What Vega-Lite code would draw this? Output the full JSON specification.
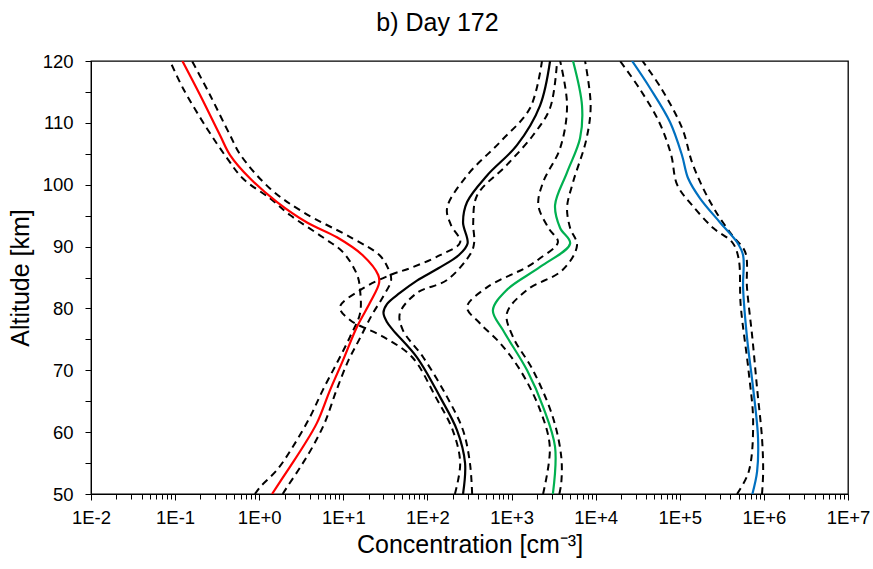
{
  "$schema": "https://vega.github.io/schema/vega-lite/v6.json",
  "width": 757,
  "height": 433,
  "autosize": {"type": "none"},
  "padding": {"left": 91, "top": 61, "right": 25, "bottom": 75},
  "background": "white",
  "title": {"text": "b) Day 172", "fontSize": 25, "font": "Liberation Sans", "fontWeight": "normal", "color": "#000000", "anchor": "middle", "dx": -32, "offset": 16},
  "config": {
    "view": {"stroke": "#000000", "strokeWidth": 1.3},
    "axis": {"grid": false, "domainColor": "#000000", "tickColor": "#000000", "labelFont": "Liberation Sans", "titleFont": "Liberation Sans", "labelColor": "#000000", "titleColor": "#000000", "titleFontWeight": "normal"}
  },
  "data": {"values": [
    {"series":"red","kind":"mid","alt":120,"conc":0.122},
    {"series":"red","kind":"mid","alt":114.5,"conc":0.198},
    {"series":"red","kind":"mid","alt":108,"conc":0.342},
    {"series":"red","kind":"mid","alt":104.8,"conc":0.45},
    {"series":"red","kind":"mid","alt":101,"conc":0.78},
    {"series":"red","kind":"mid","alt":97.2,"conc":1.63},
    {"series":"red","kind":"mid","alt":93.9,"conc":3.7},
    {"series":"red","kind":"mid","alt":91.5,"conc":8.4},
    {"series":"red","kind":"mid","alt":88.6,"conc":17},
    {"series":"red","kind":"mid","alt":85.4,"conc":26},
    {"series":"red","kind":"mid","alt":84.1,"conc":26.6},
    {"series":"red","kind":"mid","alt":80.9,"conc":20.7},
    {"series":"red","kind":"mid","alt":77,"conc":14.5},
    {"series":"red","kind":"mid","alt":71.6,"conc":9.9},
    {"series":"red","kind":"mid","alt":66.8,"conc":6.95},
    {"series":"red","kind":"mid","alt":61.5,"conc":4.86},
    {"series":"red","kind":"mid","alt":57.6,"conc":3.3},
    {"series":"red","kind":"mid","alt":54.4,"conc":2.32},
    {"series":"red","kind":"mid","alt":50,"conc":1.42},

    {"series":"red_lo","kind":"bound","alt":120,"conc":0.087},
    {"series":"red_lo","kind":"bound","alt":115.6,"conc":0.124},
    {"series":"red_lo","kind":"bound","alt":109.1,"conc":0.239},
    {"series":"red_lo","kind":"bound","alt":104.3,"conc":0.414},
    {"series":"red_lo","kind":"bound","alt":101,"conc":0.64},
    {"series":"red_lo","kind":"bound","alt":97.8,"conc":1.34},
    {"series":"red_lo","kind":"bound","alt":95.1,"conc":2.32},
    {"series":"red_lo","kind":"bound","alt":91.5,"conc":5.7},
    {"series":"red_lo","kind":"bound","alt":89.1,"conc":9.9},
    {"series":"red_lo","kind":"bound","alt":85.4,"conc":14.6},
    {"series":"red_lo","kind":"bound","alt":83,"conc":15.8},
    {"series":"red_lo","kind":"bound","alt":79.2,"conc":15.8},
    {"series":"red_lo","kind":"bound","alt":75.4,"conc":12},
    {"series":"red_lo","kind":"bound","alt":71.2,"conc":8.4},
    {"series":"red_lo","kind":"bound","alt":66.8,"conc":5.7},
    {"series":"red_lo","kind":"bound","alt":62.4,"conc":4.0},
    {"series":"red_lo","kind":"bound","alt":57.6,"conc":2.5},
    {"series":"red_lo","kind":"bound","alt":53.9,"conc":1.63},
    {"series":"red_lo","kind":"bound","alt":51.1,"conc":1.02},
    {"series":"red_lo","kind":"bound","alt":50,"conc":0.89},

    {"series":"red_hi","kind":"bound","alt":120,"conc":0.159},
    {"series":"red_hi","kind":"bound","alt":114.5,"conc":0.26},
    {"series":"red_hi","kind":"bound","alt":108,"conc":0.45},
    {"series":"red_hi","kind":"bound","alt":104.8,"conc":0.6},
    {"series":"red_hi","kind":"bound","alt":99.4,"conc":1.34},
    {"series":"red_hi","kind":"bound","alt":95.6,"conc":3.3},
    {"series":"red_hi","kind":"bound","alt":91.3,"conc":13},
    {"series":"red_hi","kind":"bound","alt":88.6,"conc":27},
    {"series":"red_hi","kind":"bound","alt":86.5,"conc":34},
    {"series":"red_hi","kind":"bound","alt":84.6,"conc":37},
    {"series":"red_hi","kind":"bound","alt":82,"conc":30},
    {"series":"red_hi","kind":"bound","alt":79,"conc":22},
    {"series":"red_hi","kind":"bound","alt":75,"conc":15.5},
    {"series":"red_hi","kind":"bound","alt":71.6,"conc":11.5},
    {"series":"red_hi","kind":"bound","alt":66.8,"conc":8.3},
    {"series":"red_hi","kind":"bound","alt":61.5,"conc":6.0},
    {"series":"red_hi","kind":"bound","alt":57.6,"conc":4.3},
    {"series":"red_hi","kind":"bound","alt":54.4,"conc":3.1},
    {"series":"red_hi","kind":"bound","alt":51.1,"conc":2.14},
    {"series":"red_hi","kind":"bound","alt":50,"conc":1.9},

    {"series":"black","kind":"mid","alt":120,"conc":2870},
    {"series":"black","kind":"mid","alt":112.8,"conc":2180},
    {"series":"black","kind":"mid","alt":106.4,"conc":1160},
    {"series":"black","kind":"mid","alt":101.5,"conc":512},
    {"series":"black","kind":"mid","alt":97.2,"conc":296},
    {"series":"black","kind":"mid","alt":93.9,"conc":265},
    {"series":"black","kind":"mid","alt":90.5,"conc":300},
    {"series":"black","kind":"mid","alt":88.6,"conc":235},
    {"series":"black","kind":"mid","alt":86.5,"conc":135},
    {"series":"black","kind":"mid","alt":84.5,"conc":75},
    {"series":"black","kind":"mid","alt":82.5,"conc":47},
    {"series":"black","kind":"mid","alt":80.7,"conc":33},
    {"series":"black","kind":"mid","alt":79.3,"conc":30},
    {"series":"black","kind":"mid","alt":77.8,"conc":33},
    {"series":"black","kind":"mid","alt":76.5,"conc":39},
    {"series":"black","kind":"mid","alt":72.1,"conc":75},
    {"series":"black","kind":"mid","alt":65.7,"conc":141},
    {"series":"black","kind":"mid","alt":60.3,"conc":225},
    {"series":"black","kind":"mid","alt":55,"conc":280},
    {"series":"black","kind":"mid","alt":50,"conc":265},

    {"series":"black_lo","kind":"bound","alt":120,"conc":2300},
    {"series":"black_lo","kind":"bound","alt":112.4,"conc":1660},
    {"series":"black_lo","kind":"bound","alt":106.9,"conc":730},
    {"series":"black_lo","kind":"bound","alt":101.5,"conc":296},
    {"series":"black_lo","kind":"bound","alt":96.2,"conc":171},
    {"series":"black_lo","kind":"bound","alt":93.5,"conc":190},
    {"series":"black_lo","kind":"bound","alt":90.7,"conc":245},
    {"series":"black_lo","kind":"bound","alt":88.6,"conc":141},
    {"series":"black_lo","kind":"bound","alt":86.5,"conc":62},
    {"series":"black_lo","kind":"bound","alt":85.4,"conc":36},
    {"series":"black_lo","kind":"bound","alt":83,"conc":16},
    {"series":"black_lo","kind":"bound","alt":80.2,"conc":9.1},
    {"series":"black_lo","kind":"bound","alt":78.1,"conc":12.1},
    {"series":"black_lo","kind":"bound","alt":75.4,"conc":30},
    {"series":"black_lo","kind":"bound","alt":72.1,"conc":66},
    {"series":"black_lo","kind":"bound","alt":65.7,"conc":125},
    {"series":"black_lo","kind":"bound","alt":60.3,"conc":200},
    {"series":"black_lo","kind":"bound","alt":55,"conc":245},
    {"series":"black_lo","kind":"bound","alt":50,"conc":212},

    {"series":"black_hi","kind":"bound","alt":120,"conc":3480},
    {"series":"black_hi","kind":"bound","alt":112.4,"conc":2870},
    {"series":"black_hi","kind":"bound","alt":108,"conc":1800},
    {"series":"black_hi","kind":"bound","alt":103.2,"conc":880},
    {"series":"black_hi","kind":"bound","alt":98.3,"conc":390},
    {"series":"black_hi","kind":"bound","alt":93.9,"conc":350},
    {"series":"black_hi","kind":"bound","alt":90.7,"conc":360},
    {"series":"black_hi","kind":"bound","alt":89,"conc":330},
    {"series":"black_hi","kind":"bound","alt":84.6,"conc":171},
    {"series":"black_hi","kind":"bound","alt":82.5,"conc":75},
    {"series":"black_hi","kind":"bound","alt":79.2,"conc":47},
    {"series":"black_hi","kind":"bound","alt":76.5,"conc":51},
    {"series":"black_hi","kind":"bound","alt":72.1,"conc":89},
    {"series":"black_hi","kind":"bound","alt":65.7,"conc":171},
    {"series":"black_hi","kind":"bound","alt":60.3,"conc":265},
    {"series":"black_hi","kind":"bound","alt":55,"conc":320},
    {"series":"black_hi","kind":"bound","alt":50,"conc":340},

    {"series":"green","kind":"mid","alt":120,"conc":5380},
    {"series":"green","kind":"mid","alt":112.8,"conc":6880},
    {"series":"green","kind":"mid","alt":107.5,"conc":6520},
    {"series":"green","kind":"mid","alt":102,"conc":4570},
    {"series":"green","kind":"mid","alt":96.7,"conc":3290},
    {"series":"green","kind":"mid","alt":93,"conc":3780},
    {"series":"green","kind":"mid","alt":90.5,"conc":4970},
    {"series":"green","kind":"mid","alt":86.7,"conc":2180},
    {"series":"green","kind":"mid","alt":83,"conc":880},
    {"series":"green","kind":"mid","alt":79.7,"conc":600},
    {"series":"green","kind":"mid","alt":76.5,"conc":790},
    {"series":"green","kind":"mid","alt":70,"conc":1530},
    {"series":"green","kind":"mid","alt":64.1,"conc":2370},
    {"series":"green","kind":"mid","alt":57.6,"conc":3290},
    {"series":"green","kind":"mid","alt":50,"conc":3100},

    {"series":"green_lo","kind":"bound","alt":120,"conc":3780},
    {"series":"green_lo","kind":"bound","alt":112.8,"conc":4570},
    {"series":"green_lo","kind":"bound","alt":105.9,"conc":3780},
    {"series":"green_lo","kind":"bound","alt":100.4,"conc":2370},
    {"series":"green_lo","kind":"bound","alt":96.7,"conc":2080},
    {"series":"green_lo","kind":"bound","alt":93,"conc":2750},
    {"series":"green_lo","kind":"bound","alt":90.7,"conc":3560},
    {"series":"green_lo","kind":"bound","alt":88.1,"conc":2180},
    {"series":"green_lo","kind":"bound","alt":86.7,"conc":1530},
    {"series":"green_lo","kind":"bound","alt":83.4,"conc":510},
    {"series":"green_lo","kind":"bound","alt":80.2,"conc":296},
    {"series":"green_lo","kind":"bound","alt":77.6,"conc":420},
    {"series":"green_lo","kind":"bound","alt":74.4,"conc":730},
    {"series":"green_lo","kind":"bound","alt":70,"conc":1270},
    {"series":"green_lo","kind":"bound","alt":63.6,"conc":2180},
    {"series":"green_lo","kind":"bound","alt":57.6,"conc":2850},
    {"series":"green_lo","kind":"bound","alt":50,"conc":2370},

    {"series":"green_hi","kind":"bound","alt":120,"conc":7480},
    {"series":"green_hi","kind":"bound","alt":112.8,"conc":8720},
    {"series":"green_hi","kind":"bound","alt":107.3,"conc":7740},
    {"series":"green_hi","kind":"bound","alt":100.4,"conc":5380},
    {"series":"green_hi","kind":"bound","alt":96.3,"conc":4570},
    {"series":"green_hi","kind":"bound","alt":93,"conc":4970},
    {"series":"green_hi","kind":"bound","alt":90.2,"conc":6000},
    {"series":"green_hi","kind":"bound","alt":86.2,"conc":4040},
    {"series":"green_hi","kind":"bound","alt":83,"conc":1530},
    {"series":"green_hi","kind":"bound","alt":79.2,"conc":880},
    {"series":"green_hi","kind":"bound","alt":75.4,"conc":1040},
    {"series":"green_hi","kind":"bound","alt":70,"conc":1800},
    {"series":"green_hi","kind":"bound","alt":62.4,"conc":3100},
    {"series":"green_hi","kind":"bound","alt":56,"conc":3900},
    {"series":"green_hi","kind":"bound","alt":51.8,"conc":3900},
    {"series":"green_hi","kind":"bound","alt":50,"conc":3700},

    {"series":"blue","kind":"mid","alt":120,"conc":27100},
    {"series":"blue","kind":"mid","alt":115.6,"conc":44400},
    {"series":"blue","kind":"mid","alt":110.1,"conc":76700},
    {"series":"blue","kind":"mid","alt":104.8,"conc":106000},
    {"series":"blue","kind":"mid","alt":101,"conc":126000},
    {"series":"blue","kind":"mid","alt":97.8,"conc":174000},
    {"series":"blue","kind":"mid","alt":93.9,"conc":301000},
    {"series":"blue","kind":"mid","alt":90.7,"conc":480000},
    {"series":"blue","kind":"mid","alt":88.6,"conc":566000},
    {"series":"blue","kind":"mid","alt":83.3,"conc":566000},
    {"series":"blue","kind":"mid","alt":75.2,"conc":631000},
    {"series":"blue","kind":"mid","alt":67.1,"conc":745000},
    {"series":"blue","kind":"mid","alt":59,"conc":852000},
    {"series":"blue","kind":"mid","alt":53.6,"conc":830000},
    {"series":"blue","kind":"mid","alt":50,"conc":730000},

    {"series":"blue_lo","kind":"bound","alt":120,"conc":19500},
    {"series":"blue_lo","kind":"bound","alt":115.6,"conc":33000},
    {"series":"blue_lo","kind":"bound","alt":110.1,"conc":57000},
    {"series":"blue_lo","kind":"bound","alt":104.8,"conc":79000},
    {"series":"blue_lo","kind":"bound","alt":100,"conc":93000},
    {"series":"blue_lo","kind":"bound","alt":96.7,"conc":140000},
    {"series":"blue_lo","kind":"bound","alt":93,"conc":250000},
    {"series":"blue_lo","kind":"bound","alt":90.7,"conc":420000},
    {"series":"blue_lo","kind":"bound","alt":88.1,"conc":500000},
    {"series":"blue_lo","kind":"bound","alt":80.5,"conc":530000},
    {"series":"blue_lo","kind":"bound","alt":69.7,"conc":660000},
    {"series":"blue_lo","kind":"bound","alt":61.6,"conc":745000},
    {"series":"blue_lo","kind":"bound","alt":53.6,"conc":660000},
    {"series":"blue_lo","kind":"bound","alt":50,"conc":480000},

    {"series":"blue_hi","kind":"bound","alt":120,"conc":36000},
    {"series":"blue_hi","kind":"bound","alt":115.6,"conc":60000},
    {"series":"blue_hi","kind":"bound","alt":109.1,"conc":107000},
    {"series":"blue_hi","kind":"bound","alt":103.6,"conc":140000},
    {"series":"blue_hi","kind":"bound","alt":99.4,"conc":190000},
    {"series":"blue_hi","kind":"bound","alt":95.6,"conc":270000},
    {"series":"blue_hi","kind":"bound","alt":91.8,"conc":420000},
    {"series":"blue_hi","kind":"bound","alt":89.1,"conc":600000},
    {"series":"blue_hi","kind":"bound","alt":83.3,"conc":630000},
    {"series":"blue_hi","kind":"bound","alt":75.2,"conc":730000},
    {"series":"blue_hi","kind":"bound","alt":67.1,"conc":830000},
    {"series":"blue_hi","kind":"bound","alt":59,"conc":950000},
    {"series":"blue_hi","kind":"bound","alt":53.6,"conc":980000},
    {"series":"blue_hi","kind":"bound","alt":50,"conc":950000}
  ]},
  "layer": [
    {
      "transform": [{"filter": "datum.kind === 'bound'"}],
      "mark": {"type": "line", "interpolate": "catmull-rom", "color": "#000000", "strokeWidth": 2, "strokeDash": [7, 5], "clip": true},
      "encoding": {
        "x": {"field": "conc", "type": "quantitative", "scale": {"type": "log", "domain": [0.01, 10000000], "nice": false},
              "axis": {"orient": "bottom", "values": [0.02,0.03,0.04,0.05,0.06,0.07,0.08,0.09,0.2,0.3,0.4,0.5,0.6,0.7,0.8,0.9,2,3,4,5,6,7,8,9,20,30,40,50,60,70,80,90,200,300,400,500,600,700,800,900,2000,3000,4000,5000,6000,7000,8000,9000,20000,30000,40000,50000,60000,70000,80000,90000,200000,300000,400000,500000,600000,700000,800000,900000,2000000,3000000,4000000,5000000,6000000,7000000,8000000,9000000], "labels": false, "domain": false, "tickSize": 5, "title": null}},
        "y": {"field": "alt", "type": "quantitative", "scale": {"domain": [50, 120], "nice": false, "zero": false},
              "axis": {"orient": "left", "values": [55,65,75,85,95,105,115], "labels": false, "domain": false, "tickSize": 6, "title": null}},
        "detail": {"field": "series"},
        "order": {"field": "alt", "type": "quantitative"}
      }
    },
    {
      "transform": [{"filter": "datum.kind === 'mid'"}],
      "mark": {"type": "line", "interpolate": "catmull-rom", "strokeWidth": 2.2, "clip": true},
      "encoding": {
        "x": {"field": "conc", "type": "quantitative", "scale": {"type": "log", "domain": [0.01, 10000000], "nice": false},
              "axis": {"orient": "bottom", "values": [0.01,0.1,1,10,100,1000,10000,100000,1000000,10000000], "labelExpr": "'1E' + (round(log(datum.value)/LN10) >= 0 ? '+' : '') + round(log(datum.value)/LN10)", "tickSize": 6, "labelFontSize": 18.5, "labelPadding": 8, "labelFlush": false, "labelOverlap": false, "title": "Concentration [cm⁻³]", "titleFontSize": 25, "titlePadding": 6}},
        "y": {"field": "alt", "type": "quantitative", "scale": {"domain": [50, 120], "nice": false, "zero": false},
              "axis": {"orient": "left", "values": [50,60,70,80,90,100,110,120], "tickSize": 6, "labelFontSize": 18.5, "labelPadding": 12, "labelFlush": false, "title": "Altitude [km]", "titleFontSize": 25, "titlePadding": 9}},
        "color": {"field": "series", "type": "nominal", "scale": {"domain": ["red","black","green","blue"], "range": ["#FF0000","#000000","#00B050","#0070C0"]}, "legend": null},
        "order": {"field": "alt", "type": "quantitative"}
      }
    }
  ],
  "resolve": {"axis": {"x": "independent", "y": "independent"}}
}
